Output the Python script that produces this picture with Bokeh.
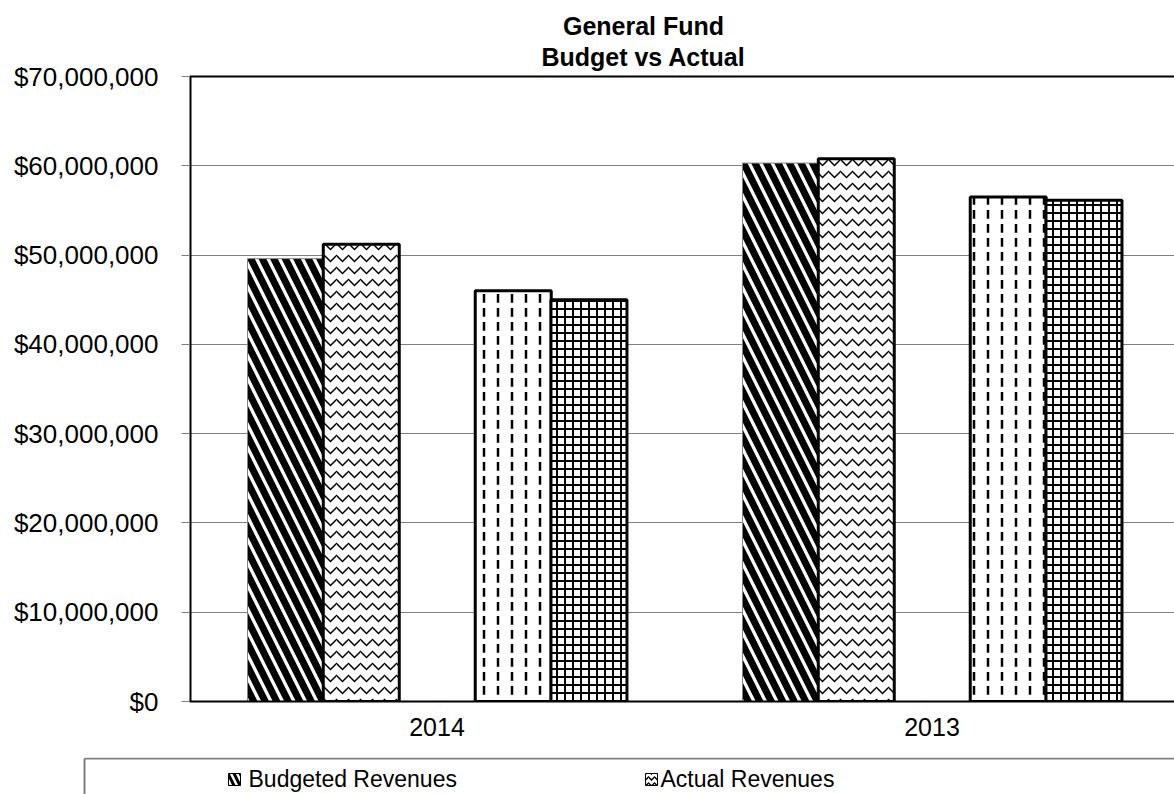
from bokeh.plotting import figure
from bokeh.models import Range1d, FixedTicker, NumeralTickFormatter, ColumnDataSource
from bokeh.core.properties import value
from bokeh.embed import file_html
from bokeh.resources import INLINE

# ---------------- data ----------------
years = ["2014", "2013"]
series_names = ["Budgeted Revenues", "Actual Revenues",
                "Budgeted Expenditures", "Actual Expenditures"]
budgeted_revenues = [49_600_000, 60_300_000]
actual_revenues = [51_200_000, 60_800_000]
budgeted_expenditures = [46_000_000, 56_500_000]
actual_expenditures = [45_000_000, 56_150_000]
y_ticks = [0, 10_000_000, 20_000_000, 30_000_000, 40_000_000,
           50_000_000, 60_000_000, 70_000_000]
y_max = 70_000_000
title_lines = ["General Fund", "Budget vs Actual"]

FONT = "Liberation Sans"
W, H_MAIN, H_LEG = 1174, 757, 37
LEFT, TOP, BOTTOM = 189, 76, 56
CAT_PX = 495.0

series_values = [budgeted_revenues, actual_revenues,
                 budgeted_expenditures, actual_expenditures]
offsets = [-0.306, -0.153, 0.154, 0.307]
bar_w = 0.1535
styles = [
    dict(hatch_pattern="left_diagonal_line", hatch_scale=23, hatch_weight=7,
         line_color="#808080", line_width=1),
    dict(hatch_pattern="horizontal_wave", hatch_scale=12, hatch_weight=1.5,
         line_color="black", line_width=3),
    dict(hatch_pattern="vertical_dash", hatch_scale=14, hatch_weight=2.5,
         line_color="black", line_width=3),
    dict(hatch_pattern="cross", hatch_scale=8, hatch_weight=2,
         line_color="black", line_width=3),
]
legend_hatch = [dict(hatch_scale=12, hatch_weight=3),
                dict(hatch_scale=6, hatch_weight=1.5)]

frame_h = H_MAIN - BOTTOM                     # frame spans canvas top .. axis
px_per_val = (frame_h - TOP) / y_max
y_top = frame_h / px_per_val                  # range end so that y_max sits at TOP px
x_end = (W - LEFT) / CAT_PX

p = figure(width=W, height=H_MAIN, output_backend="svg", toolbar_location=None,
           x_range=Range1d(0, x_end), y_range=Range1d(0, y_top),
           min_border_left=LEFT, min_border_top=0, min_border_bottom=BOTTOM,
           min_border_right=0)
p.outline_line_color = None
p.background_fill_color = "white"
p.border_fill_color = "white"

# grid
p.xgrid.visible = False
p.ygrid.ticker = FixedTicker(ticks=y_ticks)
p.ygrid.grid_line_color = "#808080"
p.ygrid.grid_line_width = 1

# y axis (its own line hidden; plot border drawn below up to y_max only)
p.yaxis.ticker = FixedTicker(ticks=y_ticks)
p.yaxis.formatter = NumeralTickFormatter(format="$0,0")
p.yaxis.major_label_text_font = FONT
p.yaxis.major_label_text_font_size = "26px"
p.yaxis.major_label_text_color = "black"
p.yaxis.major_tick_out = 8
p.yaxis.major_tick_in = 0
p.yaxis.major_tick_line_color = "#808080"
p.yaxis.minor_tick_line_color = None
p.yaxis.axis_line_color = None
p.yaxis.major_label_standoff = 23

# x axis (categories at 0.5, 1.5)
cat_centers = [i + 0.5 for i in range(len(years))]
p.xaxis.ticker = FixedTicker(ticks=cat_centers)
p.xaxis.major_label_overrides = {c: y for c, y in zip(cat_centers, years)}
p.xaxis.major_label_text_font = FONT
p.xaxis.major_label_text_font_size = "25px"
p.xaxis.major_label_text_color = "black"
p.xaxis.major_tick_out = 0
p.xaxis.major_tick_in = 0
p.xaxis.minor_tick_line_color = None
p.xaxis.axis_line_color = "black"
p.xaxis.axis_line_width = 2
p.xaxis.major_label_standoff = 16

# bars
for name, vals, off, st in zip(series_names, series_values, offsets, styles):
    src = ColumnDataSource(dict(x=[c + off for c in cat_centers], top=vals))
    p.vbar(x="x", top="top", width=bar_w, bottom=0, source=src,
           fill_color="white", hatch_color="black", **st)

# plot-area border: left and top
p.segment(x0=[0, 0], y0=[0, y_max], x1=[0, x_end], y1=[y_max, y_max],
          line_color="black", line_width=[4, 2])

# title
title_x = (643 - LEFT) / CAT_PX
title_y = [y_max + (TOP - py) / px_per_val for py in (25.5, 56.0)]
p.text(x=[title_x, title_x], y=title_y, text=title_lines,
       text_font=value(FONT), text_font_size="25px", text_font_style="bold",
       text_align="center", text_baseline="middle", text_color="black")

# ---------------- legend strip (separate root so it is not frame-aligned) ----
lg = figure(width=W, height=H_LEG, output_backend="svg", toolbar_location=None,
            x_range=Range1d(0, W), y_range=Range1d(H_MAIN + H_LEG, H_MAIN),
            min_border=0, min_border_left=0, min_border_right=0,
            min_border_top=0, min_border_bottom=0)
lg.axis.visible = False
lg.grid.visible = False
lg.outline_line_color = None
lg.segment(x0=[84, 84], y0=[758, 758], x1=[W, 84], y1=[758, H_MAIN + H_LEG],
           line_color="#808080", line_width=2)

leg_items = [(series_names[0], styles[0], legend_hatch[0], 234, 248),
             (series_names[1], styles[1], legend_hatch[1], 651, 660)]
for name, st, lh, sx, tx in leg_items:
    lg.rect(x=[sx], y=[779], width=12, height=12, fill_color="white",
            hatch_color="black", hatch_pattern=st["hatch_pattern"],
            line_color="black", line_width=1, **lh)
    lg.text(x=[tx], y=[778], text=[name], text_font=value(FONT),
            text_font_size="23px", text_baseline="middle", text_align="left",
            text_color="black")

open("out.html", "w").write(file_html([p, lg], INLINE))
